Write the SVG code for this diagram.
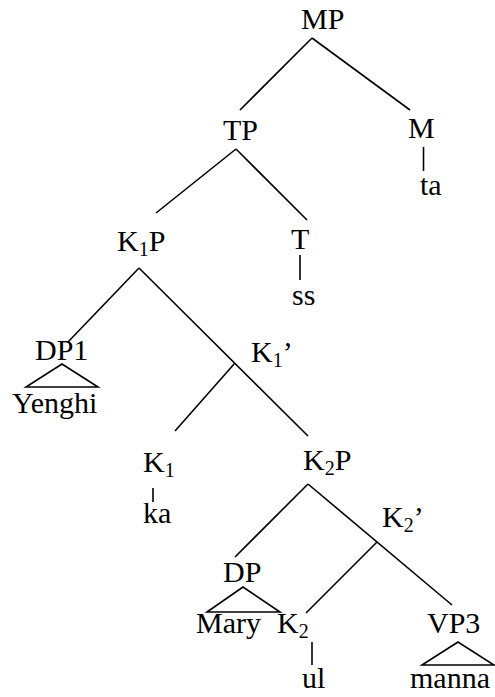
<svg xmlns="http://www.w3.org/2000/svg" width="495" height="697" viewBox="0 0 495 697">
<style>
.sub{font-size:20px}
line,polygon{stroke:#000;stroke-width:1.6;fill:none}
</style>
<rect width="495" height="697" fill="#fff"/>
<g id="connectors">
<line x1="312" y1="38" x2="240" y2="110"/>
<line x1="312" y1="38" x2="410" y2="110"/>
<line x1="423.5" y1="147" x2="423.5" y2="171"/>
<line x1="236" y1="149" x2="156" y2="213"/>
<line x1="236" y1="149" x2="307" y2="220"/>
<line x1="300" y1="255" x2="300" y2="280"/>
<line x1="139" y1="268" x2="68" y2="342"/>
<line x1="139" y1="268" x2="308" y2="436"/>
<line x1="235" y1="363" x2="175" y2="431"/>
<line x1="153" y1="488" x2="153" y2="502"/>
<line x1="308" y1="484" x2="235" y2="557"/>
<line x1="308" y1="484" x2="452" y2="605"/>
<line x1="377" y1="542" x2="306" y2="613"/>
<line x1="312" y1="642" x2="312" y2="665"/>
</g>
<g font-family="Liberation Serif, Times New Roman, serif" font-size="30" fill="#000">
<g id="MP"><text x="301" y="29">MP</text></g>
<g id="TP"><text x="223" y="140">TP</text></g>
<g id="M"><text x="408" y="138">M</text></g>
<g id="ta"><text x="420" y="195">ta</text></g>
<g id="K1P"><text x="117" y="251">K<tspan class="sub" dy="5">1</tspan><tspan dy="-5">P</tspan></text></g>
<g id="T"><text x="291" y="249">T</text></g>
<g id="ss"><text x="292" y="305">ss</text></g>
<g id="DP1"><text x="35" y="360">DP1</text><polygon points="62,364 26,387 98,387"/><text x="12" y="413">Yenghi</text></g>
<g id="K1bar"><text x="251" y="362">K<tspan class="sub" dy="5">1</tspan><tspan dy="-5">’</tspan></text></g>
<g id="K1"><text x="143" y="472">K<tspan class="sub" dy="5">1</tspan></text></g>
<g id="ka"><text x="143" y="523">ka</text></g>
<g id="K2P"><text x="303" y="470">K<tspan class="sub" dy="5">2</tspan><tspan dy="-5">P</tspan></text></g>
<g id="K2bar"><text x="382" y="527">K<tspan class="sub" dy="5">2</tspan><tspan dy="-5">’</tspan></text></g>
<g id="DP"><text x="223" y="582">DP</text><polygon points="243,587 207,612 280,612"/><text x="196" y="633">Mary</text></g>
<g id="K2"><text x="277" y="633">K<tspan class="sub" dy="5">2</tspan></text></g>
<g id="ul"><text x="302" y="688">ul</text></g>
<g id="VP3"><text x="427" y="633">VP3</text><polygon points="458,642 422,665 494,665"/><text x="410" y="688">manna</text></g>
</g>
</svg>
